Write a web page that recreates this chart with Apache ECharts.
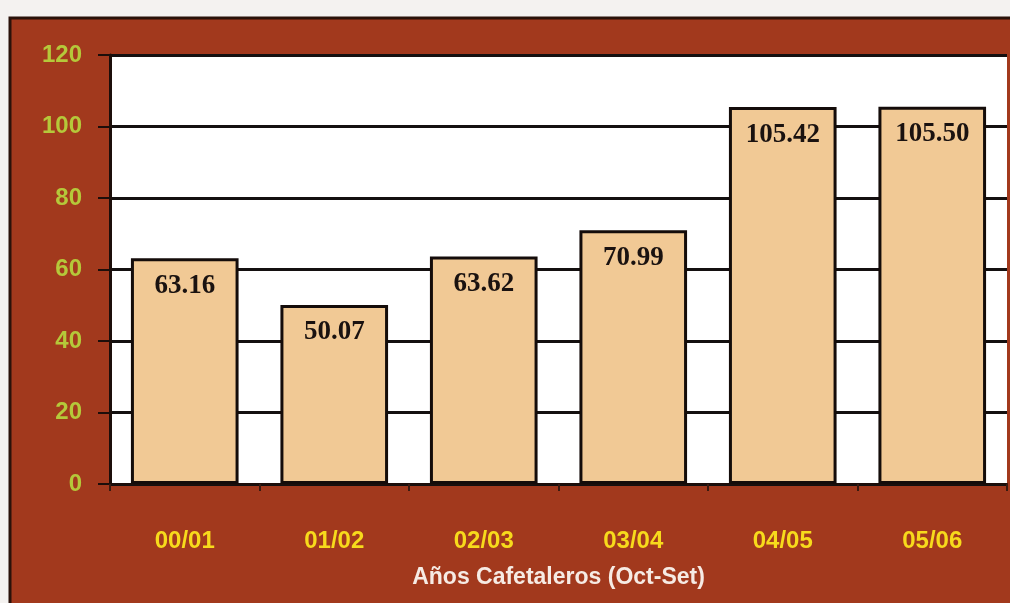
<!DOCTYPE html>
<html>
<head>
<meta charset="utf-8">
<script src="https://cdn.jsdelivr.net/npm/echarts@6/dist/echarts.min.js"></script>
<style>
  html, body { margin: 0; padding: 0; background: #f4f2f0; }
  #chart { width: 1010px; height: 603px; }
</style>
</head>
<body>
<div id="chart"></div>
<script>
  // datos
  const categories = ['00/01', '01/02', '02/03', '03/04', '04/05', '05/06'];
  const values = [63.16, 50.07, 63.62, 70.99, 105.42, 105.5];
  const axisTitle = 'Años Cafetaleros (Oct-Set)';

  const chart = echarts.init(document.getElementById('chart'));

  chart.setOption({
    animation: false,
    // marco marrón
    graphic: [
      {
        type: 'rect',
        z: -10,
        shape: { x: 10, y: 18, width: 1010, height: 600 },
        style: { fill: '#a2391d', stroke: '#2a120a', lineWidth: 3 }
      }
    ],
    grid: {
      left: 110,
      right: 3,
      top: 55,
      bottom: 119,
      show: true,
      backgroundColor: '#ffffff',
      borderWidth: 0
    },
    xAxis: {
      type: 'category',
      data: categories,
      name: axisTitle,
      nameLocation: 'middle',
      nameGap: 82,
      nameTextStyle: {
        color: '#f6ebe4',
        fontSize: 23,
        fontWeight: 'bold',
        fontFamily: 'Liberation Sans, Arial, sans-serif'
      },
      axisLine: { lineStyle: { color: '#1c0e0a', width: 2 } },
      axisTick: { show: true, length: 7, lineStyle: { color: '#3a1a10', width: 2 } },
      axisLabel: {
        color: '#f7da1c',
        fontSize: 24,
        fontWeight: 'bold',
        margin: 45,
        fontFamily: 'Liberation Sans, Arial, sans-serif'
      }
    },
    yAxis: {
      type: 'value',
      min: 0,
      max: 120,
      interval: 20,
      axisLine: { show: true, lineStyle: { color: '#1c0e0a', width: 3 } },
      axisTick: { show: true, length: 12, lineStyle: { color: '#1c0e0a', width: 2 } },
      axisLabel: {
        color: '#b5c83a',
        fontSize: 24,
        fontWeight: 'bold',
        margin: 28,
        fontFamily: 'Liberation Sans, Arial, sans-serif'
      },
      splitLine: { lineStyle: { color: '#141010', width: 3 } }
    },
    series: [
      {
        type: 'bar',
        data: values,
        barWidth: '72%',
        itemStyle: {
          color: '#f1c995',
          borderColor: '#140c0a',
          borderWidth: 3
        },
        label: {
          show: true,
          position: 'insideTop',
          distance: 14,
          formatter: (p) => p.value.toFixed(2),
          color: '#1a1210',
          fontSize: 27,
          fontWeight: 'bold',
          fontFamily: 'Liberation Serif, Times New Roman, serif'
        }
      }
    ]
  });
</script>
</body>
</html>
